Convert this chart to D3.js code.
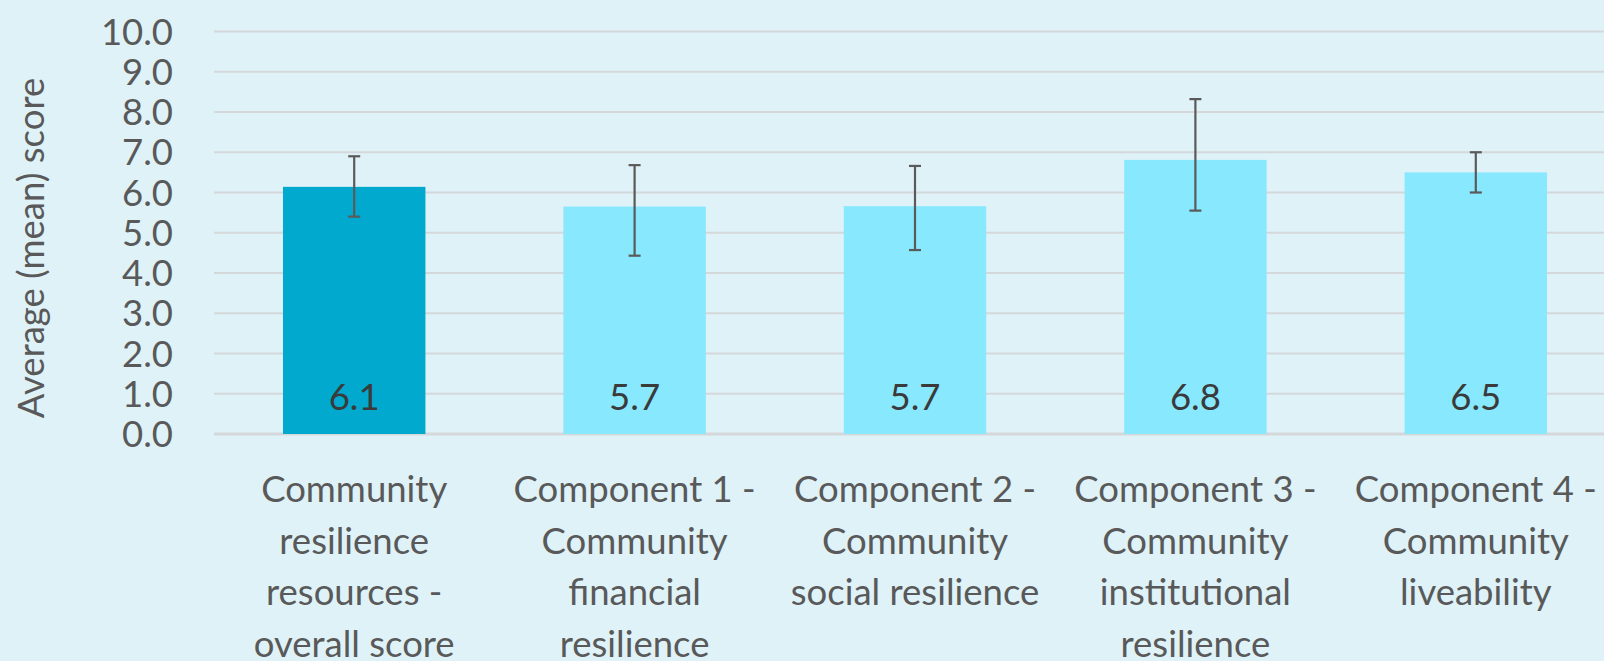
<!DOCTYPE html>
<html lang="en">
<head>
    <meta charset="UTF-8">
    <script src="https://d3js.org/d3.v7.min.js"></script>
    <style>
        html, body {
            margin: 0;
            padding: 0;
            background: #def2f8;
            overflow: hidden;
        }
        svg {
            display: block;
            font-family: Lato, "Open Sans", Arial, sans-serif;
        }
        .tick-label, .cat-label, .axis-title {
            fill: #595959;
            font-size: 36.5px;
        }
        .value-label {
            fill: #3a3a3a;
            font-size: 36.5px;
        }
    </style>
</head>
<body>
    <svg id="chart"></svg>

    <script>
        // Dữ liệu
        const categories = [
            "Community\nresilience\nresources -\noverall score",
            "Component 1 -\nCommunity\nfinancial\nresilience",
            "Component 2 -\nCommunity\nsocial resilience",
            "Component 3 -\nCommunity\ninstitutional\nresilience",
            "Component 4 -\nCommunity\nliveability"
        ];
        const means = [6.14, 5.65, 5.66, 6.81, 6.50];
        const errLow = [5.40, 4.43, 4.57, 5.55, 6.00];
        const errHigh = [6.90, 6.68, 6.66, 8.32, 7.00];
        const valueLabels = ["6.1", "5.7", "5.7", "6.8", "6.5"];
        const yTicks = [0, 1, 2, 3, 4, 5, 6, 7, 8, 9, 10];
        const yTitle = "Average (mean) score";

        const data = categories.map((c, i) => ({
            cat: c,
            mean: means[i],
            lo: errLow[i],
            hi: errHigh[i],
            label: valueLabels[i]
        }));

        const width = 1604;
        const height = 661;

        const svg = d3.select("#chart")
            .attr("width", width)
            .attr("height", height);

        // Trục
        const x = d3.scaleBand()
            .domain(categories)
            .range([214, 1616])
            .paddingInner(0.492)
            .paddingOuter(0.246);

        const y = d3.scaleLinear()
            .domain([0, 10])
            .range([434, 31.5]);

        // Lưới ngang
        svg.append("g")
            .selectAll("line")
            .data(yTicks)
            .enter()
            .append("line")
            .attr("x1", 214)
            .attr("x2", width)
            .attr("y1", d => y(d))
            .attr("y2", d => y(d))
            .attr("stroke", "#d5d8da")
            .attr("stroke-width", d => d === 0 ? 3 : 2);

        // Nhãn trục Y
        svg.append("g")
            .selectAll("text")
            .data(yTicks)
            .enter()
            .append("text")
            .attr("class", "tick-label")
            .attr("x", 173)
            .attr("y", d => y(d))
            .attr("dy", "0.36em")
            .attr("text-anchor", "end")
            .text(d => d.toFixed(1));

        // Tiêu đề trục Y
        svg.append("text")
            .attr("class", "axis-title")
            .attr("transform", "translate(44,248) rotate(-90)")
            .attr("text-anchor", "middle")
            .text(yTitle);

        // Cột
        svg.selectAll(".bar")
            .data(data)
            .enter()
            .append("rect")
            .attr("class", "bar")
            .attr("x", d => x(d.cat))
            .attr("y", d => y(d.mean))
            .attr("width", x.bandwidth())
            .attr("height", d => y(0) - y(d.mean))
            .attr("fill", (d, i) => i === 0 ? "#00a9cd" : "#87e8fe");

        // Thanh sai số
        const err = svg.append("g")
            .selectAll("g")
            .data(data)
            .enter()
            .append("g")
            .attr("stroke", "#5a5a5a")
            .attr("stroke-width", 2.2);

        err.append("line")
            .attr("x1", d => x(d.cat) + x.bandwidth() / 2)
            .attr("x2", d => x(d.cat) + x.bandwidth() / 2)
            .attr("y1", d => y(d.lo))
            .attr("y2", d => y(d.hi));

        err.selectAll(".cap")
            .data(d => [d.lo, d.hi].map(v => ({ cat: d.cat, v })))
            .enter()
            .append("line")
            .attr("class", "cap")
            .attr("x1", d => x(d.cat) + x.bandwidth() / 2 - 6)
            .attr("x2", d => x(d.cat) + x.bandwidth() / 2 + 6)
            .attr("y1", d => y(d.v))
            .attr("y2", d => y(d.v));

        // Nhãn số trên cột
        svg.selectAll(".value-label")
            .data(data)
            .enter()
            .append("text")
            .attr("class", "value-label")
            .attr("x", d => x(d.cat) + x.bandwidth() / 2)
            .attr("y", 410)
            .attr("text-anchor", "middle")
            .text(d => d.label);

        // Nhãn danh mục
        const cat = svg.selectAll(".cat-label")
            .data(data)
            .enter()
            .append("text")
            .attr("class", "cat-label")
            .attr("text-anchor", "middle")
            .attr("transform", d => `translate(${x(d.cat) + x.bandwidth() / 2},502)`);

        cat.selectAll("tspan")
            .data(d => d.cat.split("\n"))
            .enter()
            .append("tspan")
            .attr("x", 0)
            .attr("y", (d, i) => i * 51.7)
            .text(d => d);
    </script>
</body>
</html>
